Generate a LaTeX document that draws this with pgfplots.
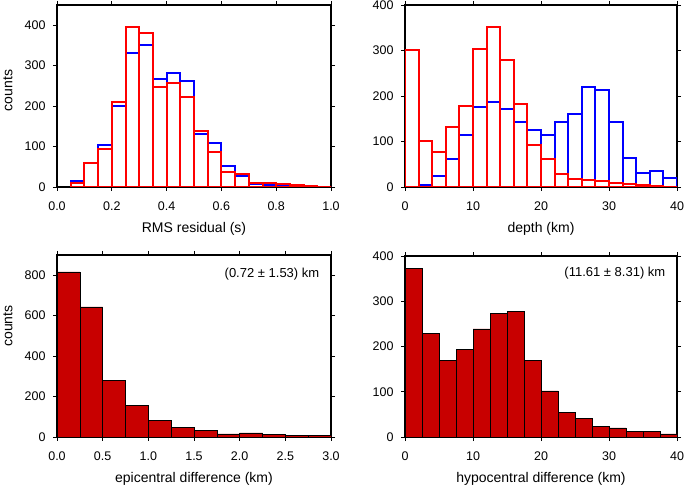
\documentclass[border=0pt]{standalone}
\usepackage{pgfplots}
\pgfplotsset{compat=1.18}
\usepackage{fontspec}
\setmainfont{Liberation Sans}
\definecolor{barred}{RGB}{200,0,0}
\definecolor{gblue}{RGB}{0,0,255}
\definecolor{gred}{RGB}{255,0,0}
\pgfplotsset{
  gmt/.style={
    scale only axis, width=274pt, height=182pt,
    axis line style={line width=1.8pt, black},
    tick align=outside, major tick length=4pt,
    tick style={line width=0.7pt, black},
    xtick pos=both, ytick pos=both,
    xticklabel pos=lower, yticklabel pos=left,
    /pgf/number format/assume math mode=true,
    tick label style={font=\fontsize{12.5}{14}\selectfont},
    xticklabel style={anchor=north, yshift=-7pt},
    yticklabel style={anchor=east, xshift=-4pt},
    every axis x label/.style={at={(rel axis cs:0.5,0)}, anchor=center, yshift=-42pt, font=\fontsize{14}{16}\selectfont},
    every axis y label/.style={anchor=center, xshift=-49pt, rotate=90, font=\fontsize{14}{16}\selectfont},
    clip=true,
  },
  outl/.style={ybar, bar width=#1, bar shift=0pt, fill=none, line width=2pt, mark=none},
  filled/.style={ybar interval, fill=barred, draw=black, line width=0.5pt, mark=none},
}
\begin{document}
\begin{tikzpicture}
\useasboundingbox (0,0) rectangle (685pt,-486pt);
% top left
\begin{axis}[gmt, at={(57pt,-5pt)}, anchor=north west,
  xmin=0, xmax=1, ymin=0, ymax=450,
  xtick={0,0.2,...,1.0}, ytick={0,100,...,400},
  xticklabel style={/pgf/number format/.cd, fixed, fixed zerofill, precision=1},
  xlabel={RMS residual (s)}, ylabel={counts},
  ylabel style={at={(rel axis cs:0,0.53)}}]
\addplot[outl=0.05, draw=gblue] coordinates {
(0.075,15) (0.125,60) (0.175,104) (0.225,200) (0.275,332) (0.325,350) (0.375,267) (0.425,281)
(0.475,261) (0.525,131) (0.575,108) (0.625,52) (0.675,28) (0.725,7) (0.775,5) (0.825,3)
(0.875,2) (0.925,1) (0.975,1)};
\addplot[outl=0.05, draw=gred] coordinates {
(0.075,10) (0.125,60) (0.175,93) (0.225,211) (0.275,396) (0.325,381) (0.375,248) (0.425,257)
(0.475,222) (0.525,139) (0.575,86) (0.625,37) (0.675,31) (0.725,9) (0.775,10) (0.825,7)
(0.875,4) (0.925,2) (0.975,1)};
\end{axis}
% top right
\begin{axis}[gmt, at={(405pt,-5pt)}, anchor=north west, width=272pt,
  xmin=0, xmax=40, ymin=0, ymax=400,
  xtick={0,10,...,40}, ytick={0,100,...,400},
  xlabel={depth (km)}]
\addplot[outl=2, draw=gblue] coordinates {
(1,1) (3,5) (5,25) (7,61) (9,114) (11,175) (13,186) (15,171) (17,142) (19,126)
(21,115) (23,142) (25,161) (27,219) (29,213) (31,142) (33,64) (35,31) (37,35) (39,19)};
\addplot[outl=2, draw=gred] coordinates {
(1,300) (3,102) (5,76) (7,132) (9,178) (11,304) (13,351) (15,279) (17,182) (19,92)
(21,61) (23,29) (25,17) (27,15) (29,13) (31,9) (33,6) (35,4) (37,2) (39,1)};
\end{axis}
% bottom left
\begin{axis}[gmt, at={(57pt,-255pt)}, anchor=north west,
  xmin=0, xmax=3, ymin=0, ymax=900,
  xtick={0,0.5,...,3.0}, ytick={0,200,...,800},
  xticklabel style={/pgf/number format/.cd, fixed, fixed zerofill, precision=1},
  xlabel={epicentral difference (km)}, ylabel={counts},
  ylabel style={at={(rel axis cs:0,0.61)}}]
\addplot[filled] coordinates {
(0,816) (0.25,644) (0.5,281) (0.75,158) (1.0,81) (1.25,49) (1.5,33) (1.75,15)
(2.0,20) (2.25,12) (2.5,7) (2.75,8) (3.0,8)};
\node[anchor=east, font=\fontsize{13}{15}\selectfont] at (rel axis cs:0.97,0.895) {(0.72 ± 1.53) km};
\end{axis}
% bottom right
\begin{axis}[gmt, at={(405pt,-256pt)}, anchor=north west, width=272pt, height=181pt,
  xmin=0, xmax=40, ymin=0, ymax=400,
  xtick={0,10,...,40}, ytick={0,100,...,400},
  xlabel={hypocentral difference (km)}]
\addplot[filled] coordinates {
(0,372) (2.5,229) (5,169) (7.5,194) (10,239) (12.5,274) (15,277) (17.5,170)
(20,102) (22.5,54) (25,41) (27.5,23) (30,20) (32.5,12) (35,12) (37.5,7) (40,7)};
\node[anchor=east, font=\fontsize{13}{15}\selectfont] at (rel axis cs:0.97,0.905) {(11.61 ± 8.31) km};
\end{axis}
\end{tikzpicture}
\end{document}
